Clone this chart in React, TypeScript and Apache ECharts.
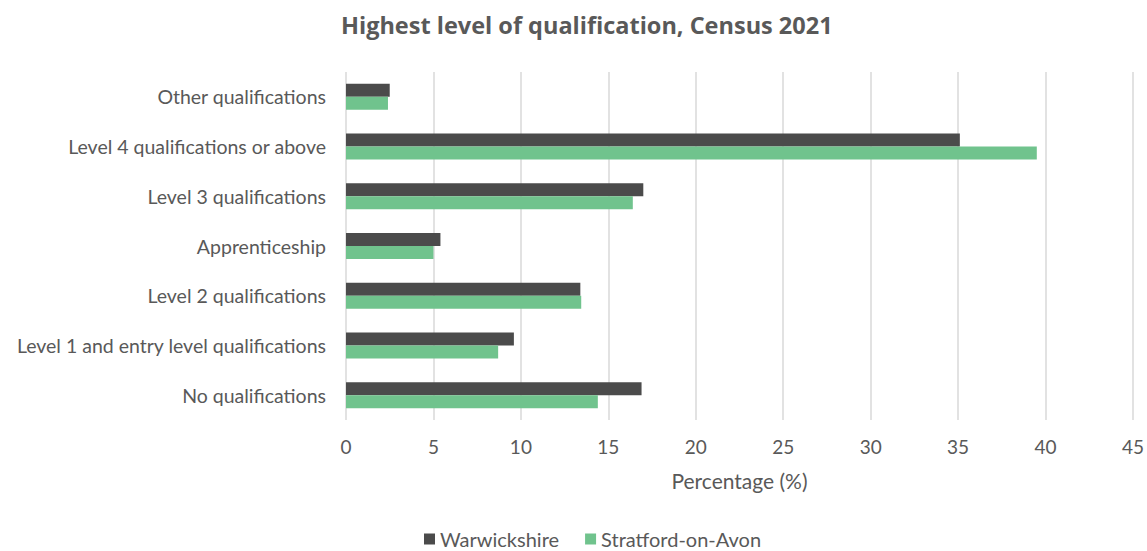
import React, { useEffect, useRef } from "react";
import * as echarts from "echarts";

const categories = [
  "Other qualifications",
  "Level 4 qualifications or above",
  "Level 3 qualifications",
  "Apprenticeship",
  "Level 2 qualifications",
  "Level 1 and entry level qualifications",
  "No qualifications",
];
const warwickshire = [2.5, 35.1, 17.0, 5.4, 13.4, 9.6, 16.9];
const stratford = [2.4, 39.5, 16.4, 5.0, 13.45, 8.7, 14.4];
const xTicks = { min: 0, max: 45, interval: 5 };

const FONT = "Lato, 'Open Sans', sans-serif";
const TEXT = "#595959";

export default function App() {
  const ref = useRef<HTMLDivElement>(null);
  useEffect(() => {
    document.body.style.margin = "0";
    const chart = echarts.init(ref.current!, null, { renderer: "svg" });
    chart.setOption({
      animation: false,
      textStyle: { fontFamily: FONT, color: TEXT },
      title: {
        text: "Highest level of qualification, Census 2021",
        left: 336,
        top: 8,
        textStyle: { fontFamily: "'Open Sans', sans-serif", fontSize: 23.5, fontWeight: "bold", color: TEXT },
      },
      grid: { left: 346, right: 12, top: 72, bottom: 131, containLabel: false },
      legend: {
        left: 419,
        top: 524,
        itemWidth: 11,
        itemHeight: 11,
        itemGap: 26,
        icon: "rect",
        data: ["Warwickshire", "Stratford-on-Avon"],
        textStyle: { fontFamily: FONT, fontSize: 20, color: TEXT },
      },
      xAxis: {
        type: "value",
        min: xTicks.min,
        max: xTicks.max,
        interval: xTicks.interval,
        name: "Percentage (%)",
        nameLocation: "middle",
        nameGap: 50,
        nameTextStyle: { fontFamily: FONT, fontSize: 21, color: TEXT },
        axisLine: { show: false },
        axisTick: { show: false },
        axisLabel: { fontFamily: FONT, fontSize: 19, color: TEXT, margin: 17 },
        splitLine: { show: true, lineStyle: { color: "#d9d9d9", width: 1.5 } },
      },
      yAxis: {
        type: "category",
        inverse: true,
        data: categories,
        axisLine: { show: false },
        axisTick: { show: false },
        axisLabel: { fontFamily: FONT, fontSize: 19.5, color: TEXT, margin: 20 },
      },
      series: [
        {
          name: "Warwickshire",
          type: "bar",
          data: warwickshire,
          barWidth: 13,
          barGap: "0%",
          itemStyle: { color: "#4b4b4b" },
        },
        {
          name: "Stratford-on-Avon",
          type: "bar",
          data: stratford,
          barWidth: 13,
          barGap: "0%",
          itemStyle: { color: "#70c38d" },
        },
      ],
    });
    return () => chart.dispose();
  }, []);
  return (
    <div
      ref={ref}
      style={{ position: "absolute", left: 0, top: 0, width: 1147, height: 551, background: "#fff" }}
    />
  );
}
